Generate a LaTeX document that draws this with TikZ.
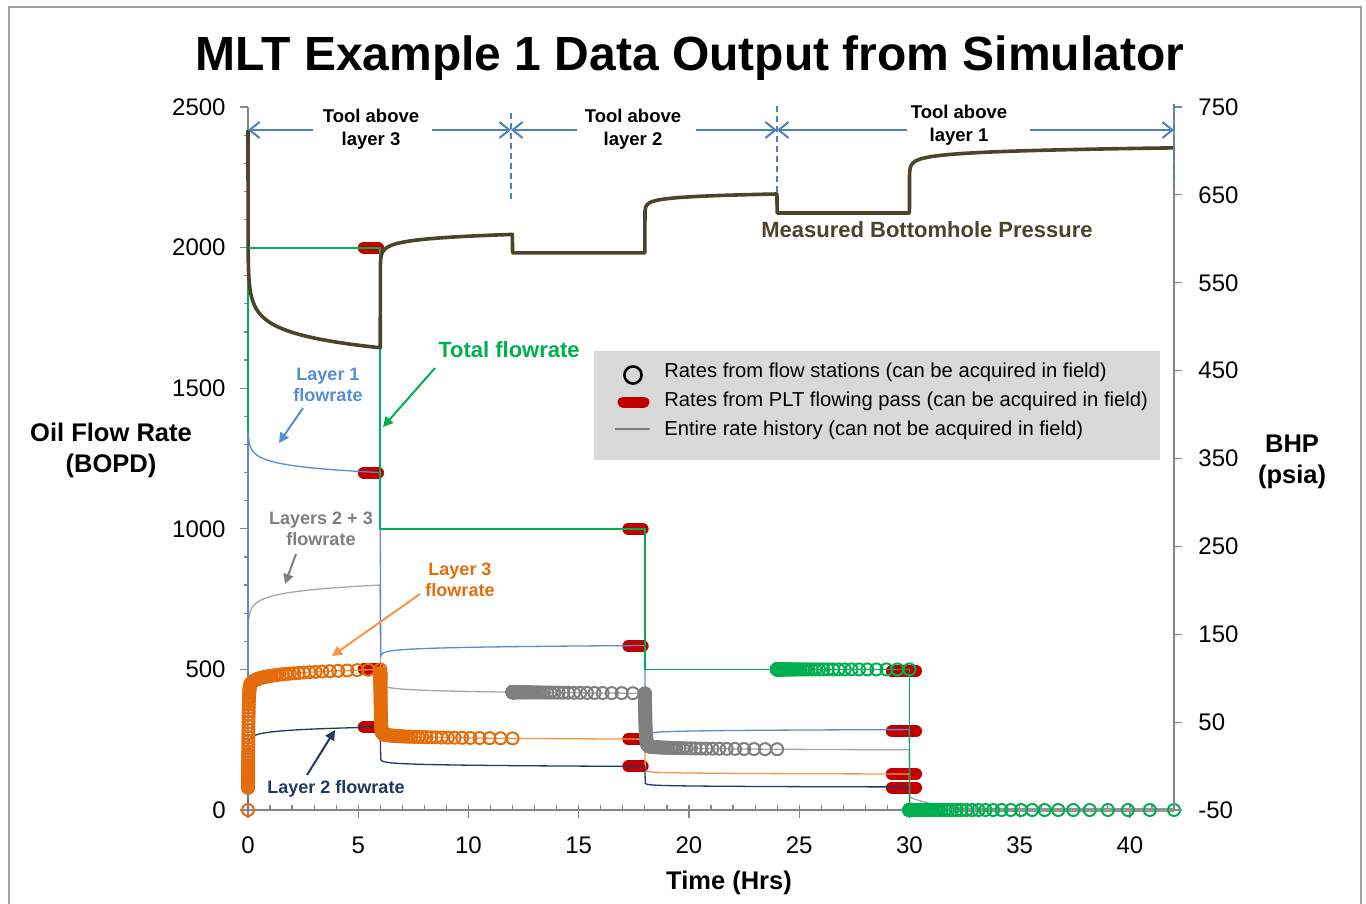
\documentclass[tikz,border=0pt]{standalone}
\usepackage{fontspec}
\setmainfont{Liberation Sans}
\usetikzlibrary{arrows.meta}

\definecolor{bhp}{HTML}{4A452A}
\definecolor{totc}{HTML}{00B050}
\definecolor{lonec}{HTML}{558ED5}
\definecolor{ltwoc}{HTML}{1F3864}
\definecolor{lthrc}{HTML}{F79646}
\definecolor{lthrdark}{HTML}{E46C0A}
\definecolor{lttc}{HTML}{A6A6A6}
\definecolor{lttdark}{HTML}{7F7F7F}
\definecolor{pltred}{HTML}{C00000}
\definecolor{toolblue}{HTML}{4F81BD}
\definecolor{axisgray}{HTML}{868686}
\definecolor{legfill}{HTML}{D9D9D9}
\definecolor{framegray}{HTML}{A0A0A0}

\begin{document}
\begin{tikzpicture}[x=0.5pt,y=-0.5pt,
  declare function={
    qonea(\s)=1200+23*ln(6/\s);
    qoneb(\s)=585-6*ln(12/\s);
    qonec(\s)=286-3*ln(12/\s);
    qtwoa(\s)=295-10*ln(6/\s);
    qtwob(\s)=155+4*ln(12/\s);
    qtwoc(\s)=82+2*ln(12/\s);
    qthra(\s)=(500-13*ln(6/\s))*(1-0.85*exp(max(-9,-\s/0.02)));
    qthrb(\s)=500-(248-4*ln(12/\s))*(1-exp(max(-9,-\s/0.02)));
    qthrc(\s)=128+2*ln(12/\s);
    qgrc(\s)=420-(206-3*ln(12/\s))*(1-exp(max(-9,-\s/0.03)));
  },
  ratescope/.style={shift={(124pt,-405pt)},x=11.0238pt,y=0.1406pt},
  presscope/.style={shift={(124pt,-383.03pt)},x=11.0238pt,y=0.439375pt},
  axisline/.style={draw=axisgray,line width=0.6pt},
  ticklab/.style={inner sep=0pt,font=\fontsize{12}{14}\selectfont},
  axtitle/.style={inner sep=0pt,align=center,font=\bfseries\fontsize{12.75}{15.5}\selectfont},
  pltbar/.style={draw=pltred,line width=6pt,line cap=round},
  rateline/.style={line width=0.65pt,line join=round},
  stnor/.style={draw=lthrdark,line width=1pt},
  stngr/.style={draw=lttdark,line width=1pt},
  stngn/.style={draw=totc,line width=1pt},
  bhpline/.style={draw=bhp,line width=1.8pt,line join=round},
  toolarrow/.style={draw=toolblue,line width=1pt,-{Straight Barb[length=5pt,width=8pt,line width=1pt]}},
  tooldiv/.style={draw=toolblue,line width=0.8pt,dash pattern=on 3pt off 2pt},
  toollab/.style={inner sep=0pt,align=center,font=\bfseries\fontsize{9.25}{11.25}\selectfont},
  lab/.style={inner sep=0pt,align=center,font=\bfseries\fontsize{9}{10.75}\selectfont},
  annarrow/.style={line width=1pt,-{Triangle[length=5pt,width=5pt]}},
  legtxt/.style={inner sep=0pt,anchor=base west,font=\fontsize{10.1}{12}\selectfont}
]
\useasboundingbox (0,0) rectangle (1366,904);
\fill[white] (0,0) rectangle (1366,904);

% outer frame
\draw[framegray,line width=0.8pt] (9,904) -- (9,7) -- (1361,7) -- (1361,904);

% title
\node[inner sep=0pt,anchor=base,font=\bfseries\fontsize{24}{28}\selectfont] (title) at (690,71)
  {MLT Example 1 Data Output from Simulator};

% legend panel
\fill[legfill] (594,351) rectangle (1160,460);
\draw[black,line width=1.3pt] (633,375) circle[radius=4.3pt];
\draw[pltred,line width=5.5pt,line cap=round] (623,402) -- (644,402);
\draw[lttdark,line width=0.8pt] (615,429) -- (650,429);
\node[legtxt] (lg1) at (664,377) {Rates from flow stations (can be acquired in field)};
\node[legtxt] (lg2) at (664,406) {Rates from PLT flowing pass (can be acquired in field)};
\node[legtxt] (lg3) at (664,435) {Entire rate history (can not be acquired in field)};

% ---------------- rate axis and rate data ----------------
\begin{scope}[ratescope]
  \draw[axisline] (0,2500) -- (0,0) -- (42,0);
  \foreach \v in {100,200,...,2500} \draw[axisline] (0,\v) -- ++(-2pt,0);
  \foreach \v in {0,500,...,2500} {
    \draw[axisline] (0,\v) -- ++(-4pt,0);
    \node[ticklab,anchor=east] (yl\v) at ([xshift=-11pt]0,\v) {\v};
  }
  \foreach \t in {1,...,42} \draw[axisline] (\t,0) -- ++(0,2.5pt);
  \foreach \t in {0,5,...,40} {
    \draw[axisline] (\t,0) -- ++(0,-4pt);
    \node[ticklab] (xl\t) at ([yshift=-17.5pt]\t,0) {\t};
  }

  % PLT flowing pass rates
  \foreach \v in {2000,1200,500,295} \draw[pltbar] (5.25,\v) -- (5.9,\v);
  \foreach \v in {1000,583,252,155} \draw[pltbar] (17.25,\v) -- (17.9,\v);
  \foreach \v in {495,280,128,80} \draw[pltbar] (29.2,\v) -- (30.3,\v);

  % layers 2 + 3
  \draw[rateline,draw=lttc] (0,0)
    -- plot[domain=-1.9:0.77815,samples=50] ({10^\x},{2000-qonea(10^\x)})
    -- plot[domain=-1.7:1.07918,samples=50] ({6+10^\x},{1000-qoneb(10^\x)})
    -- plot[domain=-1.7:1.07918,samples=50] ({18+10^\x},{500-qonec(10^\x)})
    -- plot[domain=0:12,samples=40] ({30+\x},{46*exp(-\x/1.4)});
  % layer 3
  \draw[rateline,draw=lthrc] (0,0)
    -- plot[domain=-2.9:0.77815,samples=70] ({10^\x},{qthra(10^\x)})
    -- plot[domain=-2.9:1.07918,samples=70] ({6+10^\x},{qthrb(10^\x)})
    -- plot[domain=-1.7:1.07918,samples=50] ({18+10^\x},{qthrc(10^\x)})
    -- (30,0);
  % layer 2
  \draw[rateline,draw=ltwoc] (0,0)
    -- plot[domain=-2:0.77815,samples=50] ({10^\x},{qtwoa(10^\x)})
    -- plot[domain=-1.7:1.07918,samples=50] ({6+10^\x},{qtwob(10^\x)})
    -- plot[domain=-1.7:1.07918,samples=50] ({18+10^\x},{qtwoc(10^\x)})
    -- (30,0);
  % layer 1
  \draw[rateline,draw=lonec] (0,0)
    -- plot[domain=-1.9:0.77815,samples=50] ({10^\x},{qonea(10^\x)})
    -- plot[domain=-1.7:1.07918,samples=50] ({6+10^\x},{qoneb(10^\x)})
    -- plot[domain=-1.7:1.07918,samples=50] ({18+10^\x},{qonec(10^\x)})
    -- (30,0);
  % shut-in rates all at zero
  \draw[draw=lttc!90!black,line width=1.6pt] (30,0) -- (42,0);

  % flow station rates (log-spaced sampling)
  \draw[stnor] (0,0) circle[radius=3pt];
  \foreach \k in {0,...,88}{
    \pgfmathsetmacro\tv{6*10^(-\k/24)}
    \draw[stnor] (\tv,{qthra(\tv)}) circle[radius=3pt];
    \draw[stnor] ({6+\tv},{qthrb(\tv)}) circle[radius=3pt];
    \draw[stngr] ({12+\tv},{1000-qoneb(6+\tv)}) circle[radius=3pt];
    \draw[stngr] ({18+\tv},{qgrc(\tv)}) circle[radius=3pt];
    \draw[stngn] ({24+\tv},500) circle[radius=3pt];
  }
  \foreach \k in {0,...,96}{
    \pgfmathsetmacro\tv{12*10^(-\k/24)}
    \draw[stngn] ({30+\tv},0) circle[radius=3pt];
  }

  % total flowrate
  \draw[rateline,line width=0.8pt,draw=totc] (0,1340) -- (0,2000) -- (6,2000) -- (6,1000) -- (18,1000)
    -- (18,500) -- (30,500) -- (30,0);
\end{scope}

% ---------------- pressure axis and BHP ----------------
\begin{scope}[presscope]
  \draw[axisline] (42,-50) -- (42,750);
  \foreach \p in {-50,50,...,750} {
    \draw[axisline] (42,\p) -- ++(4pt,0);
    \node[ticklab,anchor=west] (pl\p) at ([xshift=12pt]42,\p) {\p};
  }
  \draw[bhpline] (0,724)
    -- plot[domain=-2.3:0.77815,samples=60] ({10^\x},{476+16*ln(6/10^\x)})
    -- plot[domain=-2.3:0.77815,samples=50] ({6+10^\x},{605-5*ln(6/10^\x)})
    -- (12,584) -- (18,584)
    -- plot[domain=-2.3:0.77815,samples=50] ({18+10^\x},{651-3*ln(6/10^\x)})
    -- (24,629.4) -- (30,629.4)
    -- plot[domain=-2.3:1.07918,samples=60] ({30+10^\x},{703.5-4*ln(12/10^\x)});
\end{scope}

% top run of the total flowrate, kept clear of the axis grey
\begin{scope}[ratescope]
  \draw[rateline,line width=0.9pt,draw=totc] (0.06,2000) -- (5.92,2000);
\end{scope}

% axis titles
\node[axtitle] (ylab) at (111,450) {Oil Flow Rate\\(BOPD)};
\node[axtitle] (y2lab) at (1292,462) {BHP\\(psia)};
\node[axtitle,anchor=base] (xlab) at (729,889) {Time (Hrs)};

% tool position markers
\coordinate (d0) at (248,130);
\coordinate (d1) at (511,130);
\coordinate (d2) at (777,130);
\coordinate (d3) at (1174,130);
\coordinate (s3l) at (313,130);
\coordinate (s3r) at (432,130);
\coordinate (s2l) at (577,130);
\coordinate (s2r) at (696,130);
\coordinate (s1l) at (907,130);
\coordinate (s1r) at (1030,130);
\coordinate (v1t) at (511,113);
\coordinate (v1b) at (511,203);
\coordinate (v2t) at (777,106);
\coordinate (v2b) at (777,193);
\coordinate (v3t) at (1174,104);
\coordinate (v3b) at (1174,187);
\draw[tooldiv] (v1t) -- (v1b);
\draw[tooldiv] (v2t) -- (v2b);
\draw[tooldiv] (v3t) -- (v3b);
\draw[toolarrow] (s3l) -- (d0);
\draw[toolarrow] (s3r) -- (d1);
\draw[toolarrow] (s2l) -- (d1);
\draw[toolarrow] (s2r) -- (d2);
\draw[toolarrow] (s1l) -- (d2);
\draw[toolarrow] (s1r) -- (d3);
\node[toollab] (tl3) at (371,129) {Tool above\\layer 3};
\node[toollab] (tl2) at (633,129) {Tool above\\layer 2};
\node[toollab] (tl1) at (959,125) {Tool above\\layer 1};

% curve labels
\node[inner sep=0pt,anchor=base,text=bhp,font=\bfseries\fontsize{11}{13}\selectfont] (labp) at (927,237) {Measured Bottomhole Pressure};
\node[inner sep=0pt,anchor=base,text=totc,font=\bfseries\fontsize{11}{13}\selectfont] (labt) at (509,357) {Total flowrate};
\node[lab,text=lonec] (lab1) at (328,385) {Layer 1\\flowrate};
\node[lab,text=lttdark] (lab23) at (321,529) {Layers 2 + 3\\flowrate};
\node[lab,text=lthrdark] (lab3) at (460,580) {Layer 3\\flowrate};
\node[lab,anchor=base,text=ltwoc] (lab2) at (336,793) {Layer 2 flowrate};

% label pointers
\coordinate (pta) at (435,368);
\coordinate (ptb) at (383,427);
\coordinate (p1a) at (303,408);
\coordinate (p1b) at (279,443);
\coordinate (p23a) at (296,554);
\coordinate (p23b) at (285,584);
\coordinate (p3a) at (420,594);
\coordinate (p3b) at (332,656);
\coordinate (p2a) at (307,775);
\coordinate (p2b) at (335,730);
\draw[annarrow,draw=totc,fill=totc] (pta) -- (ptb);
\draw[annarrow,draw=lonec,fill=lonec] (p1a) -- (p1b);
\draw[annarrow,draw=lttdark,fill=lttdark] (p23a) -- (p23b);
\draw[annarrow,draw=lthrc,fill=lthrc] (p3a) -- (p3b);
\draw[annarrow,draw=ltwoc,fill=ltwoc] (p2a) -- (p2b);
\end{tikzpicture}
\end{document}
